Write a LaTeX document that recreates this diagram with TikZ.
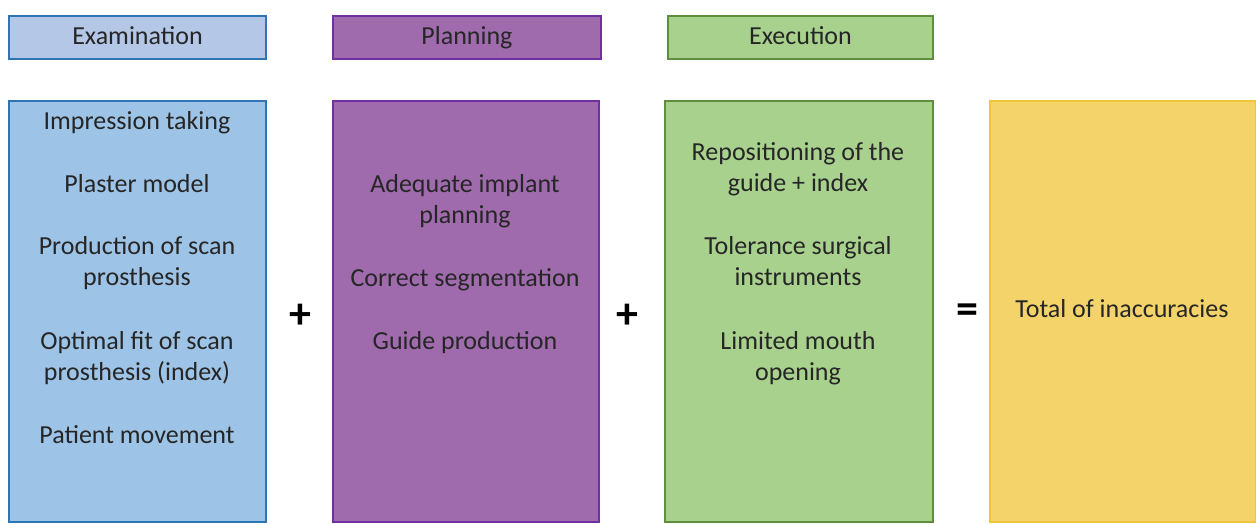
\documentclass[tikz,border=0pt]{standalone}
\usepackage{fontspec}
\setmainfont{Carlito}
\definecolor{bluefillH}{HTML}{B4C7E7}
\definecolor{bluefill}{HTML}{9DC3E6}
\definecolor{blueline}{HTML}{2E75B6}
\definecolor{purfill}{HTML}{9F6BAD}
\definecolor{purline}{HTML}{7030A0}
\definecolor{grnfill}{HTML}{A9D18E}
\definecolor{grnline}{HTML}{5E8F3E}
\definecolor{yelfill}{HTML}{F3D36A}
\definecolor{yelline}{HTML}{F0C53A}
\tikzset{
  box/.style={draw, line width=2pt, rectangle, inner sep=0pt, anchor=north west},
  lbl/.style={font=\fontsize{26}{31}\selectfont, text=black!85, inner sep=0pt, text height=19pt, text depth=5pt},
  op/.style={font=\fontsize{44}{44}\selectfont\bfseries, inner sep=0pt}
}
\begin{document}
\begin{tikzpicture}[x=1pt,y=-1pt]
\useasboundingbox (0,0) rectangle (1256,523);
% header boxes
\node[box, fill=bluefillH, draw=blueline, minimum width=257pt, minimum height=43pt] (hE) at (8,15) {};
\node[box, fill=purfill, draw=purline, minimum width=268pt, minimum height=43pt] (hP) at (332,15) {};
\node[box, fill=grnfill, draw=grnline, minimum width=265pt, minimum height=43pt] (hX) at (667,15) {};
\node[lbl] (tE) at (hE.center) {Examination};
\node[lbl] (tP) at (hP.center) {Planning};
\node[lbl] (tX) at (hX.center) {Execution};
% main boxes
\node[box, fill=bluefill, draw=blueline, minimum width=257pt, minimum height=421pt] (bE) at (8,100) {};
\node[box, fill=purfill, draw=purline, minimum width=266pt, minimum height=421pt] (bP) at (332,100) {};
\node[box, fill=grnfill, draw=grnline, minimum width=268pt, minimum height=421pt] (bX) at (664,100) {};
\node[box, fill=yelfill, draw=yelline, minimum width=266pt, minimum height=421pt] (bT) at (989,100) {};
% blue texts
\node[lbl] (e1) at (137,122) {Impression taking};
\node[lbl] (e2) at (137,185) {Plaster model};
\node[lbl] (e3) at (137,247) {Production of scan};
\node[lbl] (e3b) at (137,278) {prosthesis};
\node[lbl] (e4) at (137,342) {Optimal fit of scan};
\node[lbl] (e4b) at (137,373) {prosthesis (index)};
\node[lbl] (e5) at (137,436) {Patient movement};
% purple texts
\node[lbl] (p1) at (465,185) {Adequate implant};
\node[lbl] (p1b) at (465,216) {planning};
\node[lbl] (p2) at (465,279) {Correct segmentation};
\node[lbl] (p3) at (465,342) {Guide production};
% green texts
\node[lbl] (x1) at (798,153) {Repositioning of the};
\node[lbl] (x1b) at (798,184) {guide + index};
\node[lbl] (x2) at (798,247) {Tolerance surgical};
\node[lbl] (x2b) at (798,278) {instruments};
\node[lbl] (x3) at (798,342) {Limited mouth};
\node[lbl] (x3b) at (798,373) {opening};
% yellow text
\node[lbl] (t1) at (1122,310) {Total of inaccuracies};
% operators
\node[op] (plus1) at (300,316) {+};
\node[op] (plus2) at (627,316) {+};
\node[op] (eq) at (967,314) {=};
\end{tikzpicture}
\end{document}
